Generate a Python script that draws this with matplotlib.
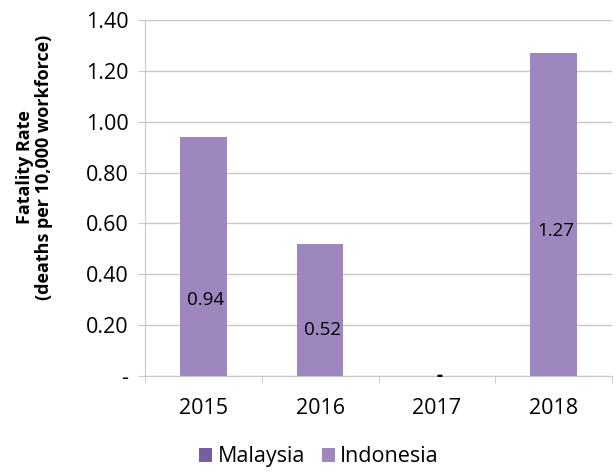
import matplotlib.pyplot as plt
from matplotlib.ticker import FuncFormatter

# Datos del gráfico
anios = ["2015", "2016", "2017", "2018"]
indonesia = [0.94, 0.52, 0.0, 1.27]
malaysia = [0.0, 0.0, 0.0, 0.0]  # sin barras visibles, solo aparece en la leyenda
etiquetas = ["0.94", "0.52", "-", "1.27"]
etiqueta_y = [0.30, 0.18, 0.0, 0.57]  # posición vertical de las etiquetas

color_indonesia = "#9d87be"
color_malaysia = "#775e9e"
gris = "#c8c8c8"

plt.rcParams["font.family"] = ["Open Sans", "DejaVu Sans"]

fig = plt.figure(figsize=(6.16, 4.72), dpi=100)
ax = fig.add_axes([0.2354, 0.2034, 0.7581, 0.7542])

x = range(len(anios))
ax.bar(x, malaysia, width=0.4, color=color_malaysia, label="Malaysia")
ax.bar(x, indonesia, width=0.4, color=color_indonesia, label="Indonesia", zorder=2)

# Etiquetas de valor dentro de las barras
for i, (txt, yy) in enumerate(zip(etiquetas, etiqueta_y)):
    ax.text(i + 0.02, yy, txt, ha="center", va="center", fontsize=13.5,
            color="black", fontweight="bold" if txt == "-" else "normal", zorder=3)

ax.set_xlim(-0.5, 3.5)
ax.set_ylim(0, 1.40)
ax.set_yticks([0, 0.2, 0.4, 0.6, 0.8, 1.0, 1.2, 1.4])
ax.yaxis.set_major_formatter(FuncFormatter(lambda v, p: "-" if v == 0 else f"{v:.2f}"))
ax.set_xticks(list(x))
ax.set_xticklabels(anios)
ax.set_xticks([-0.5, 0.5, 1.5, 2.5, 3.5], minor=True)

ax.grid(axis="y", color=gris, linewidth=1, zorder=0)
ax.set_axisbelow(True)
for lado in ["top", "right"]:
    ax.spines[lado].set_visible(False)
ax.spines["left"].set_color(gris)
ax.spines["bottom"].set_color(gris)

ax.tick_params(axis="y", length=5, color=gris, labelsize=15.5, pad=7)
ax.tick_params(axis="x", which="major", length=0, labelsize=15.5, pad=16)
ax.tick_params(axis="x", which="minor", length=5, color=gris)

ax.set_ylabel("Fatality Rate\n(deaths per 10,000 workforce)", fontsize=13, fontweight="bold",
              linespacing=1.1)
ax.yaxis.set_label_coords(-0.197, 0.587)

fig.legend(*ax.get_legend_handles_labels(), loc="center", bbox_to_anchor=(0.518, 0.032), ncol=2,
           frameon=False, fontsize=15.5, handlelength=0.6, handleheight=0.6, handletextpad=0.25,
           columnspacing=0.8)

fig.savefig("out.png", dpi=100)
